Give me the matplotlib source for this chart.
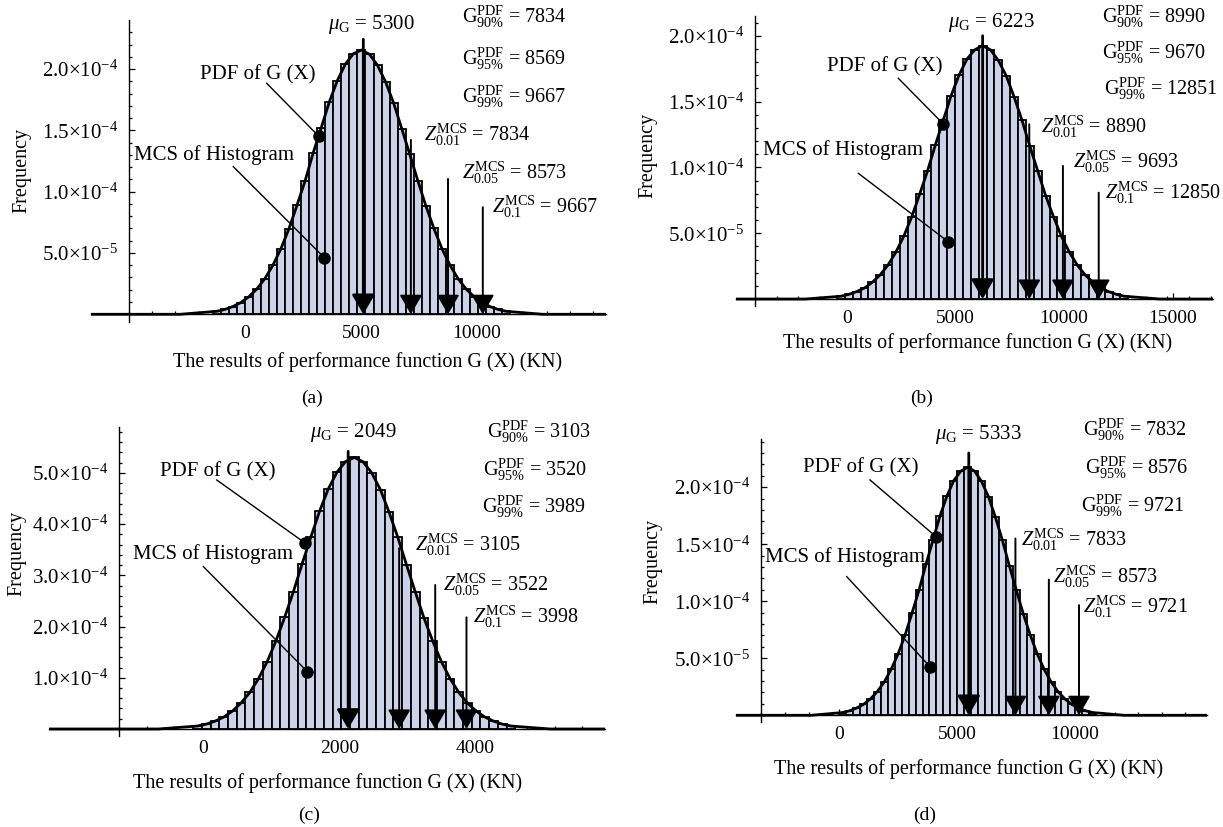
import matplotlib
matplotlib.use("Agg")
import matplotlib.pyplot as plt
from matplotlib.ticker import FixedLocator
import numpy as np

plt.rcParams['font.family'] = 'Liberation Serif'
plt.rcParams['mathtext.fontset'] = 'custom'
plt.rcParams['mathtext.rm'] = 'Liberation Serif'
plt.rcParams['mathtext.it'] = 'Liberation Serif:italic'
plt.rcParams['mathtext.bf'] = 'Liberation Serif:bold'

W, H = 1223, 827
BAR = '#ccd2e8'

# ---- data (frequencies in units of 1e-4) ----
# (a)
a_first_edge, a_bin = -1400, 347
a_freq = [0.024, 0.039, 0.062, 0.095, 0.142, 0.206, 0.290, 0.400, 0.535, 0.699,
          0.890, 1.088, 1.315, 1.520, 1.730, 1.905, 2.040, 2.125, 2.155, 2.120,
          2.030, 1.895, 1.722, 1.515, 1.305, 1.090, 0.884, 0.700, 0.535, 0.400,
          0.290, 0.206, 0.142, 0.095, 0.062, 0.039, 0.024]
a_arrow_x = [5100, 7150, 8750, 10250]
a_arrow_top = [2.243e-4, 1.422e-4, 1.104e-4, 8.73e-5]
# (b)
b_first_edge, b_bin = -466, 363
b_freq = [0.021, 0.035, 0.056, 0.084, 0.127, 0.184, 0.259, 0.357, 0.478, 0.624,
          0.795, 0.972, 1.170, 1.357, 1.545, 1.700, 1.822, 1.893, 1.925, 1.893,
          1.812, 1.695, 1.535, 1.357, 1.160, 0.972, 0.785, 0.624, 0.478, 0.357,
          0.259, 0.184, 0.127, 0.084, 0.056, 0.035, 0.021]
b_arrow_x = [6250, 8400, 9950, 11600]
b_arrow_top = [2.0e-4, 1.328e-4, 1.011e-4, 8.08e-5]
# (c)
c_first_edge, c_bin = -148, 128
c_freq = [0.058, 0.095, 0.153, 0.233, 0.349, 0.508, 0.714, 0.984, 1.317, 1.719,
          2.180, 2.677, 3.220, 3.740, 4.245, 4.680, 5.010, 5.220, 5.300, 5.216,
          5.000, 4.671, 4.230, 3.740, 3.205, 2.677, 2.170, 1.719, 1.317, 0.984,
          0.714, 0.508, 0.349, 0.233, 0.153, 0.095, 0.058]
c_arrow_x = [2130, 2880, 3410, 3870]
c_arrow_top = [5.42e-4, 3.53e-4, 2.81e-4, 2.18e-4]
# (d)
d_first_edge, d_bin = -15, 295
d_freq = [0.024, 0.039, 0.063, 0.095, 0.143, 0.208, 0.293, 0.404, 0.540, 0.705,
          0.898, 1.098, 1.325, 1.534, 1.745, 1.920, 2.058, 2.140, 2.175, 2.140,
          2.050, 1.916, 1.735, 1.534, 1.310, 1.098, 0.890, 0.705, 0.540, 0.404,
          0.293, 0.208, 0.143, 0.095, 0.063, 0.039, 0.024]
d_arrow_x = [5490, 7470, 8890, 10170]
d_arrow_top = [2.30e-4, 1.55e-4, 1.19e-4, 9.66e-5]

ylab_small = ['5.0×10$^{-5}$', '1.0×10$^{-4}$', '1.5×10$^{-4}$', '2.0×10$^{-4}$']
ylab_c = ['1.0×10$^{-4}$', '2.0×10$^{-4}$', '3.0×10$^{-4}$', '4.0×10$^{-4}$', '5.0×10$^{-4}$']

a_texts = [(r'$\mu_{\mathrm{G}}$ = 5300', 328, 25),
           (r'$\mathrm{G}^{\mathrm{PDF}}_{90\%}$ = 7834', 462, 17),
           (r'$\mathrm{G}^{\mathrm{PDF}}_{95\%}$ = 8569', 462, 59),
           (r'$\mathrm{G}^{\mathrm{PDF}}_{99\%}$ = 9667', 462, 97),
           (r'$Z^{\mathrm{MCS}}_{0.01}$ = 7834', 424, 135),
           (r'$Z^{\mathrm{MCS}}_{0.05}$ = 8573', 462, 173),
           (r'$Z^{\mathrm{MCS}}_{0.1}$ = 9667', 492, 207),
           ('PDF of G (X)', 200, 75),
           ('MCS of Histogram', 134, 155)]
b_texts = [(r'$\mu_{\mathrm{G}}$ = 6223', 948, 22),
           (r'$\mathrm{G}^{\mathrm{PDF}}_{90\%}$ = 8990', 1102, 17),
           (r'$\mathrm{G}^{\mathrm{PDF}}_{95\%}$ = 9670', 1102, 53),
           (r'$\mathrm{G}^{\mathrm{PDF}}_{99\%}$ = 12851', 1104, 89),
           (r'$Z^{\mathrm{MCS}}_{0.01}$ = 8890', 1041, 127),
           (r'$Z^{\mathrm{MCS}}_{0.05}$ = 9693', 1073, 162),
           (r'$Z^{\mathrm{MCS}}_{0.1}$ = 12850', 1105, 193),
           ('PDF of G (X)', 827, 67),
           ('MCS of Histogram', 763, 150)]
c_texts = [(r'$\mu_{\mathrm{G}}$ = 2049', 310, 432),
           (r'$\mathrm{G}^{\mathrm{PDF}}_{90\%}$ = 3103', 487, 432),
           (r'$\mathrm{G}^{\mathrm{PDF}}_{95\%}$ = 3520', 483, 470),
           (r'$\mathrm{G}^{\mathrm{PDF}}_{99\%}$ = 3989', 482, 507),
           (r'$Z^{\mathrm{MCS}}_{0.01}$ = 3105', 415, 545),
           (r'$Z^{\mathrm{MCS}}_{0.05}$ = 3522', 443, 585),
           (r'$Z^{\mathrm{MCS}}_{0.1}$ = 3998', 473, 617),
           ('PDF of G (X)', 160, 472),
           ('MCS of Histogram', 133, 554)]
d_texts = [(r'$\mu_{\mathrm{G}}$ = 5333', 935, 435),
           (r'$\mathrm{G}^{\mathrm{PDF}}_{90\%}$ = 7832', 1083, 430),
           (r'$\mathrm{G}^{\mathrm{PDF}}_{95\%}$ = 8576', 1085, 468),
           (r'$\mathrm{G}^{\mathrm{PDF}}_{99\%}$ = 9721', 1081, 506),
           (r'$Z^{\mathrm{MCS}}_{0.01}$ = 7833', 1021, 540),
           (r'$Z^{\mathrm{MCS}}_{0.05}$ = 8573', 1053, 577),
           (r'$Z^{\mathrm{MCS}}_{0.1}$ = 9721', 1083, 607),
           ('PDF of G (X)', 803, 468),
           ('MCS of Histogram', 765, 557)]

panels = [
    dict(box=(90.7, 606, 20, 322), xlim=(-6650, 15560), ylim=(-6.3e-6, 2.40e-4), yaxis=-5000,
         edge=a_first_edge, bw=a_bin, freq=a_freq, arr_x=a_arrow_x, arr_top=a_arrow_top,
         xmaj=[0, 5000, 10000], xlab=['0', '5000', '10000'], xmin_step=1000,
         ymaj=[5e-5, 1e-4, 1.5e-4, 2e-4], ylab=ylab_small, ymin_step=1e-5,
         pointers=[((935, 1.884e-4), (3190, 1.45e-4)), ((-504, 1.204e-4), (3418, 4.62e-5))],
         texts=a_texts, freqlab=(22, 170), xlabel=(368, 362), cap=('(a)', 312, 398)),
    dict(box=(736, 1213, 16, 306), xlim=(-5115, 16866), ylim=(-5.3e-6, 2.15e-4), yaxis=-4240,
         edge=b_first_edge, bw=b_bin, freq=b_freq, arr_x=b_arrow_x, arr_top=b_arrow_top,
         xmaj=[0, 5000, 10000, 15000], xlab=['0', '5000', '10000', '15000'], xmin_step=1000,
         ymaj=[5e-5, 1e-4, 1.5e-4, 2e-4], ylab=ylab_small, ymin_step=1e-5,
         pointers=[((2364, 1.677e-4), (4438, 1.33e-4)), ((521, 9.55e-5), (4668, 4.35e-5))],
         texts=b_texts, freqlab=(648, 155), xlabel=(978, 343), cap=('(b)', 922, 398)),
    dict(box=(48.9, 605, 426.7, 736), xlim=(-2271, 5907), ylim=(-1.37e-5, 5.9e-4), yaxis=-1235,
         edge=c_first_edge, bw=c_bin, freq=c_freq, arr_x=c_arrow_x, arr_top=c_arrow_top,
         xmaj=[0, 2000, 4000], xlab=['0', '2000', '4000'], xmin_step=400,
         ymaj=[1e-4, 2e-4, 3e-4, 4e-4, 5e-4], ylab=ylab_c, ymin_step=2e-5,
         pointers=[((197, 4.86e-4), (1496, 3.63e-4)), ((0, 3.17e-4), (1529, 1.12e-4))],
         texts=c_texts, freqlab=(17, 553), xlabel=(328, 783), cap=('(c)', 309, 815)),
    dict(box=(735.8, 1206.6, 439.3, 722), xlim=(-4403, 15588), ylim=(-5.9e-6, 2.42e-4), yaxis=-3312,
         edge=d_first_edge, bw=d_bin, freq=d_freq, arr_x=d_arrow_x, arr_top=d_arrow_top,
         xmaj=[0, 5000, 10000], xlab=['0', '5000', '10000'], xmin_step=1000,
         ymaj=[5e-5, 1e-4, 1.5e-4, 2e-4], ylab=ylab_small, ymin_step=1e-5,
         pointers=[((1295, 2.064e-4), (4098, 1.566e-4)), ((306, 1.216e-4), (3843, 4.26e-5))],
         texts=d_texts, freqlab=(653, 561), xlabel=(969, 769), cap=('(d)', 925, 815)),
]

fig = plt.figure(figsize=(W / 100, H / 100), dpi=100)
fig.patch.set_facecolor('white')

def fpx(x, y):
    return x / W, 1 - y / H

for p in panels:
    L, R, T, B = p['box']
    ax = fig.add_axes([L / W, 1 - B / H, (R - L) / W, (B - T) / H])
    ax.patch.set_alpha(0)
    ax.set_xlim(*p['xlim'])
    ax.set_ylim(*p['ylim'])
    ax.spines['top'].set_visible(False)
    ax.spines['right'].set_visible(False)
    ax.spines['left'].set_position(('data', p['yaxis']))
    ax.spines['bottom'].set_position(('data', 0))
    ax.spines['left'].set_linewidth(1.0)
    ax.spines['bottom'].set_linewidth(1.0)

    freq = np.array(p['freq']) * 1e-4
    edges = p['edge'] + p['bw'] * np.arange(len(freq))
    ax.bar(edges, freq, width=p['bw'], align='edge', color=BAR,
           edgecolor='black', linewidth=1.3, zorder=2)
    centers = edges + p['bw'] / 2
    cx = np.concatenate([[p['xlim'][0], edges[0] - 4 * p['bw']], centers, [edges[-1] + 5 * p['bw'], p['xlim'][1]]])
    cy = np.concatenate([[0, 0], freq, [0, 0]])
    ax.plot(cx, cy, color='black', lw=2.0, zorder=3, solid_joinstyle='round')

    for i, (x, top) in enumerate(zip(p['arr_x'], p['arr_top'])):
        ax.annotate('', xy=(x, 0), xytext=(x, top), zorder=4,
                    arrowprops=dict(arrowstyle='-|>,head_length=0.6,head_width=0.35',
                                    mutation_scale=20, lw=2.0 if i == 0 else 1.4,
                                    color='black', shrinkA=0, shrinkB=0))

    for (sx, sy), (dx, dy) in p['pointers']:
        ax.plot([sx, dx], [sy, dy], color='black', lw=1.0, zorder=5, clip_on=False)
        ax.plot(dx, dy, 'o', color='black', ms=8, zorder=6, clip_on=False)

    x0 = p['yaxis']
    ax.xaxis.set_major_locator(FixedLocator(p['xmaj']))
    ax.set_xticklabels(p['xlab'])
    ax.xaxis.set_minor_locator(FixedLocator(np.arange(x0, p['xlim'][1], p['xmin_step'])))
    ax.yaxis.set_major_locator(FixedLocator(p['ymaj']))
    ax.set_yticklabels(p['ylab'])
    ax.yaxis.set_minor_locator(FixedLocator(np.arange(0, p['ylim'][1], p['ymin_step'])))
    ax.tick_params(which='both', direction='in', width=0.9, pad=8, colors='black')
    ax.tick_params(axis='x', labelsize=14)
    ax.tick_params(axis='y', labelsize=15)
    ax.tick_params(which='major', length=4.2)
    ax.tick_params(which='minor', length=2.4)

    for s, x, y in p['texts']:
        fs = 15 if s[0] != '$' or 'mu' in s else 14.5
        fig.text(*fpx(x, y), s, fontsize=fs, ha='left', va='center')
    fig.text(*fpx(*p['freqlab']), 'Frequency', fontsize=14.5, rotation=90, ha='center', va='center')
    fig.text(*fpx(*p['xlabel']), 'The results of performance function G (X) (KN)',
             fontsize=14.5, ha='center', va='center')
    cap, cxp, cyp = p['cap']
    fig.text(*fpx(cxp, cyp), cap, fontsize=14, ha='center', va='center')

fig.savefig('out.png', dpi=100, facecolor='white')
